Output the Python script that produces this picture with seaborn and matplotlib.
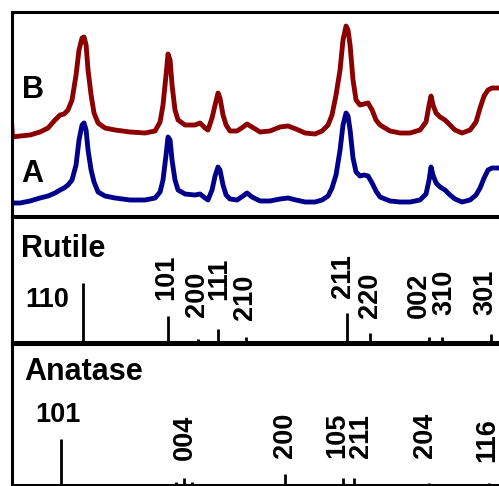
import matplotlib
matplotlib.use("Agg")
import matplotlib.pyplot as plt
import pandas as pd
import seaborn as sns

# ---- measured patterns (2-theta in degrees, intensity in a.u. above each baseline) ----
two_theta = [20.22, 20.30, 21.07, 22.09, 23.10, 23.92, 24.63, 25.14, 25.55, 25.95,
             26.36, 26.77, 27.07, 27.38, 27.58, 27.79, 27.99, 28.30, 28.60, 29.01,
             29.72, 30.74, 32.26, 33.79, 34.81, 35.32, 35.62, 35.93, 36.13, 36.34,
             36.54, 36.84, 37.15, 37.86, 38.88, 39.39, 39.90, 40.20, 40.61, 40.92,
             41.22, 41.42, 41.73, 42.04, 42.44, 43.16, 43.77, 44.17, 44.68, 45.50,
             46.51, 47.53, 48.35, 49.16, 50.08, 51.09, 51.81, 52.42, 52.82, 53.23,
             53.64, 53.94, 54.25, 54.45, 54.66, 54.96, 55.27, 55.67, 56.08, 56.49,
             56.90, 57.30, 57.71, 58.73, 59.75, 60.76, 61.78, 62.39, 62.70, 62.90,
             63.10, 63.41, 63.82, 64.32, 64.83, 65.34, 66.06, 66.87, 67.48, 67.89,
             68.30, 68.70, 69.11, 69.82]

intensity_A = [0, 0, 0, 2, 5, 7, 10, 13, 15, 18,
               23, 38, 63, 78, 80, 73, 53, 33, 21, 11,
               7, 5, 3, 3, 5, 11, 23, 48, 66, 63,
               43, 23, 13, 9, 8, 9, 5, 3, 13, 27,
               36, 33, 18, 8, 4, 3, 7, 10, 6, 2,
               2, 4, 5, 3, 1, 1, 3, 7, 15, 28,
               53, 78, 90, 87, 73, 45, 31, 27, 28, 27,
               20, 12, 6, 2, 1, 1, 3, 9, 23, 36,
               28, 20, 16, 13, 8, 4, 1, 3, 8, 15,
               25, 33, 35, 35]

intensity_B = [13, 0, 1, 2, 5, 9, 17, 22, 23, 27,
               37, 62, 87, 99, 100, 92, 67, 42, 24, 14,
               9, 7, 5, 4, 6, 15, 32, 62, 83, 77,
               52, 27, 17, 12, 12, 14, 9, 7, 19, 32,
               44, 39, 22, 12, 6, 6, 10, 13, 10, 5,
               6, 10, 11, 8, 4, 3, 6, 12, 22, 42,
               67, 97, 111, 107, 92, 57, 37, 32, 33, 34,
               27, 17, 12, 6, 4, 4, 7, 15, 32, 41,
               32, 24, 20, 17, 12, 7, 4, 7, 15, 29,
               41, 47, 49, 49]

sample_names = ["A", "B"]

# ---- reference stick patterns ----
rutile_hkl = ["110", "101", "200", "111", "210", "211", "220", "002", "310", "301"]
rutile_2theta = [27.45, 36.09, 39.19, 41.23, 44.05, 54.32, 56.64, 62.74, 64.04, 69.01]
rutile_intensity = [100, 46, 7, 24, 10, 50, 18, 10, 10, 15]

anatase_hkl = ["101", "103", "004", "112", "200", "105", "211", "204", "116"]
anatase_2theta = [25.28, 36.95, 37.80, 38.57, 48.05, 53.89, 55.06, 62.69, 68.76]
anatase_intensity = [100, 7, 16, 7, 24, 16, 16, 5, 4]
anatase_shown = ["101", "004", "200", "105", "211", "204", "116"]

# ---- layout ----
W, H = 499, 486
DPI = 100
X_MIN, X_MAX = 20.22, 75.0
PX_PER_DEG = 9.825
LEFT_PX = 11.7
B_OFFSET = 66

sns.set_style("white")
plt.rcParams["font.family"] = ["Liberation Sans", "DejaVu Sans"]
plt.rcParams["font.weight"] = "bold"

fig = plt.figure(figsize=(W / DPI, H / DPI), dpi=DPI)
width_px = (X_MAX - X_MIN) * PX_PER_DEG


def panel(top_px, bottom_px):
    ax = fig.add_axes([LEFT_PX / W, 1 - bottom_px / H, width_px / W,
                       (bottom_px - top_px) / H])
    ax.set_xlim(X_MIN, X_MAX)
    ax.set_xticks([])
    ax.set_yticks([])
    ax.set_xlabel("")
    ax.set_ylabel("")
    for side in ("left", "top", "bottom", "right"):
        ax.spines[side].set_linewidth(2.2)
        ax.spines[side].set_color("black")
    ax.patch.set_alpha(0)
    ax._px = (top_px, bottom_px)
    return ax


def yfrac(ax, py):
    top_px, bottom_px = ax._px
    return (bottom_px - py) / (bottom_px - top_px)


def deg(px):
    return X_MIN + (px - LEFT_PX) / PX_PER_DEG


ax_top = panel(12.5, 217.5)
ax_rut = panel(215.5, 343.5)
ax_ana = panel(341.5, 485.0)

# ---- measured patterns ----
n = len(two_theta)
df = pd.DataFrame({
    "two_theta": two_theta * 2,
    "intensity": intensity_A + [v + B_OFFSET for v in intensity_B],
    "sample": [sample_names[0]] * n + [sample_names[1]] * n,
})
sns.lineplot(data=df, x="two_theta", y="intensity", hue="sample",
             palette={"A": "#00008B", "B": "#8B0000"}, estimator=None,
             sort=False, linewidth=3.5, legend=False, ax=ax_top)
ax_top.set_ylim(-14.5, 190.5)
ax_top.set_xlabel("")
ax_top.set_ylabel("")

name_font = dict(fontsize=22, fontweight="bold", color="black")
num_font = dict(fontsize=19.5, fontweight="bold", color="black")

ax_top.text(deg(22), yfrac(ax_top, 98), "B", transform=ax_top.get_xaxis_transform(),
            ha="left", va="baseline", **name_font)
ax_top.text(deg(21.5), yfrac(ax_top, 182), "A", transform=ax_top.get_xaxis_transform(),
            ha="left", va="baseline", **name_font)

# ---- rutile sticks ----
ax_rut.vlines(rutile_2theta, 0, rutile_intensity, color="black", linewidth=2.0)
ax_rut.set_ylim(0, 213)
ax_rut.text(deg(21), yfrac(ax_rut, 257), "Rutile", transform=ax_rut.get_xaxis_transform(),
            ha="left", va="baseline", **name_font)

# label anchors: (centre x in px, bottom y in px) for the rotated labels
rutile_label_px = {"101": (166, 300), "200": (197, 317), "111": (219.5, 300),
                   "210": (245, 320), "211": (343, 298), "220": (370, 318),
                   "002": (419, 318), "310": (444, 315), "301": (485, 315)}
for hkl in rutile_hkl:
    if hkl == "110":
        ax_rut.text(deg(69), yfrac(ax_rut, 307), hkl, transform=ax_rut.get_xaxis_transform(),
                    ha="right", va="baseline", **num_font)
    else:
        cx, by = rutile_label_px[hkl]
        ax_rut.text(deg(cx), yfrac(ax_rut, by), hkl, transform=ax_rut.get_xaxis_transform(),
                    rotation=90, ha="center", va="bottom", **num_font)

# ---- anatase sticks ----
ax_ana.vlines(anatase_2theta, 0, anatase_intensity, color="black", linewidth=2.0)
ax_ana.set_ylim(0, 312)
ax_ana.text(deg(24), yfrac(ax_ana, 380), "Anatase", transform=ax_ana.get_xaxis_transform(),
            ha="left", va="baseline", **name_font)

anatase_label_px = {"004": (185, 460), "200": (285, 458), "105": (337, 458),
                    "211": (361, 458), "204": (425, 458), "116": (487.5, 462)}
for hkl in anatase_shown:
    if hkl == "101":
        ax_ana.text(deg(58), yfrac(ax_ana, 422), hkl, transform=ax_ana.get_xaxis_transform(),
                    ha="center", va="baseline", **num_font)
    else:
        cx, by = anatase_label_px[hkl]
        ax_ana.text(deg(cx), yfrac(ax_ana, by), hkl, transform=ax_ana.get_xaxis_transform(),
                    rotation=90, ha="center", va="bottom", **num_font)

fig.savefig("out.png", dpi=DPI, facecolor="white")
